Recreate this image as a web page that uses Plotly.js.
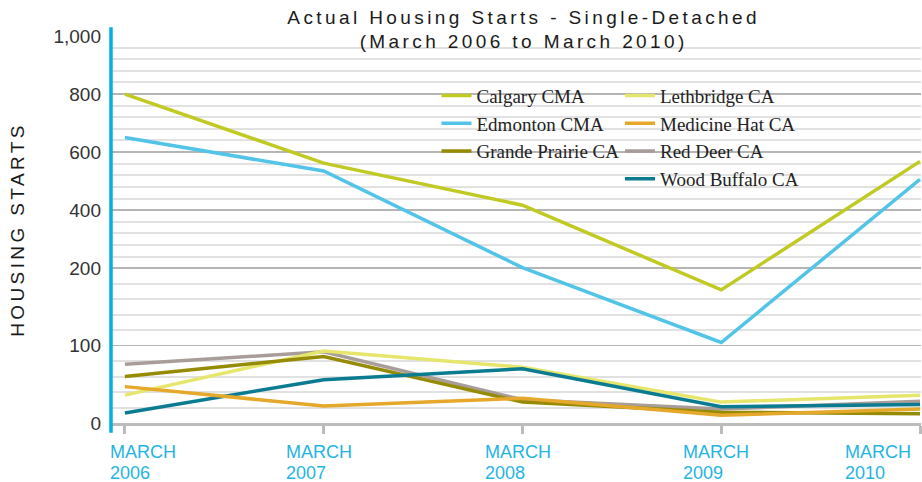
<!DOCTYPE html>
<html>
<head>
<meta charset="utf-8">
<script src="https://cdn.plot.ly/plotly-3.0.1.min.js"></script>
<style>
  html, body { margin: 0; padding: 0; background: #fff; }
  #chart { width: 922px; height: 482px; }
  .gtitle { letter-spacing: 3.4px; }
  .ytitle { letter-spacing: 3.4px; }
</style>
</head>
<body>
<div id="chart"></div>
<script>
// ---- data ----
const categories = ["March 2006", "March 2007", "March 2008", "March 2009", "March 2010"];
const tickMonths = ["MARCH", "MARCH", "MARCH", "MARCH", "MARCH"];
const tickYears  = ["2006", "2007", "2008", "2009", "2010"];

const calgary       = [800, 562, 417, 172, 568];
const edmonton      = [650, 535, 202, 104, 506];
const grandePrairie = [60, 86, 27, 14, 12];
const lethbridge    = [36, 93, 72, 27, 36];
const medicineHat   = [47, 22, 32, 10, 18];
const redDeer       = [76, 92, 30, 18, 28];
const woodBuffalo   = [13, 56, 70, 21, 24];

const yTickValues = [0, 100, 200, 400, 600, 800, 1000];
const yTickText   = ["0", "100", "200", "400", "600", "800", "1,000"];

// ---- broken (two-slope) value axis: 0-200 at full scale, 200-1000 compressed ----
const BREAK = 200, UPPER_SCALE = 0.375;
function scaleY(v) { return v <= BREAK ? v : BREAK + (v - BREAK) * UPPER_SCALE; }

const minorVals = [];
for (let v = 20; v < 200; v += 20) if (v % 100) minorVals.push(scaleY(v));
for (let v = 240; v < 1000; v += 40) if (v % 200) minorVals.push(scaleY(v));

const series = [
  {name: "Calgary CMA",        y: calgary,       color: "#c1c923", legend: "legend"},
  {name: "Edmonton CMA",       y: edmonton,      color: "#52c4e8", legend: "legend"},
  {name: "Grande Prairie CA",  y: grandePrairie, color: "#968b05", legend: "legend"},
  {name: "Lethbridge CA",      y: lethbridge,    color: "#e6e56c", legend: "legend2"},
  {name: "Medicine Hat CA",    y: medicineHat,   color: "#e5a82a", legend: "legend2"},
  {name: "Red Deer CA",        y: redDeer,       color: "#a89d98", legend: "legend2"},
  {name: "Wood Buffalo CA",    y: woodBuffalo,   color: "#0b7b91", legend: "legend2"}
];
const drawOrder = [0, 1, 5, 3, 2, 6, 4];

const traces = drawOrder.map(i => {
  const s = series[i];
  return {
    type: "scatter", mode: "lines", name: s.name, x: categories,
    y: s.y.map(scaleY),
    line: {color: s.color, width: 3.5}, legend: s.legend, cliponaxis: false,
    legendrank: i + 1
  };
});

const sans = "Liberation Sans, Arial, sans-serif";
const serif = "Liberation Serif, Times New Roman, serif";
const cyan = "#1fb5e3";

// plot box in pixels (used only to place decorations)
const PL = 111, PW = 810, PB = 423.3, PH = 387.6;
const px = x => (x - PL) / PW;
const py = y => (PB - y) / PH;

const labelShift = [-16, -39, -38, -39, -76];
const annotations = [];
categories.forEach((c, i) => {
  [[tickMonths[i], -18], [tickYears[i], -38.5]].forEach(([t, ys]) => {
    annotations.push({
      xref: "x", yref: "paper", x: c, y: 0, yanchor: "top", xanchor: "left",
      xshift: labelShift[i], yshift: ys, borderpad: 0,
      text: t, showarrow: false, align: "left",
      font: {family: sans, size: 18, color: cyan}
    });
  });
});

const layout = {
  width: 922, height: 482,
  margin: {l: PL, r: 922 - PL - PW, t: PB - PH, b: 482 - PB},
  paper_bgcolor: "#fff", plot_bgcolor: "#fff",
  showlegend: true,
  title: {
    text: "Actual Housing Starts - Single-Detached<br>(March 2006 to March 2010)",
    font: {family: sans, size: 19, color: "#1a1a1a"},
    xref: "container", x: 0.568, xanchor: "center",
    yref: "container", y: 0.951, yanchor: "top"
  },
  xaxis: {
    type: "category", range: [-0.07, 4.005], fixedrange: true,
    showgrid: false, zeroline: false,
    showline: true, linecolor: "#bcbcbc", linewidth: 3,
    ticks: "outside", ticklen: 8, tickwidth: 3, tickcolor: "#bcbcbc",
    showticklabels: false
  },
  yaxis: {
    range: [0, 500], fixedrange: true, zeroline: false, showline: false,
    tickmode: "array", tickvals: yTickValues.map(scaleY), ticktext: yTickText,
    ticks: "", ticklabelstandoff: 9,
    tickfont: {family: sans, size: 19, color: "#333"},
    showgrid: true, gridcolor: "#b5b5b5", gridwidth: 1.5,
    minor: {tickmode: "array", tickvals: minorVals, showgrid: true, gridcolor: "#e1e1e1", gridwidth: 2, ticks: ""},
    title: {text: "HOUSING STARTS", font: {family: sans, size: 19, color: "#1a1a1a"}, standoff: 23}
  },
  legend: {
    xref: "paper", yref: "paper", x: px(436.5), y: py(76.5), xanchor: "left", yanchor: "top",
    bgcolor: "rgba(0,0,0,0)", font: {family: serif, size: 19, color: "#222"}, traceorder: "normal"
  },
  legend2: {
    xref: "paper", yref: "paper", x: px(620), y: py(76.5), xanchor: "left", yanchor: "top",
    bgcolor: "rgba(0,0,0,0)", font: {family: serif, size: 19, color: "#222"}, traceorder: "normal"
  },
  shapes: [
    {type: "rect", xref: "paper", yref: "paper", layer: "between",
     x0: px(227), x1: px(819), y0: py(64), y1: py(29),
     fillcolor: "rgba(255,255,255,0.72)", line: {width: 0}},
    {type: "rect", xref: "paper", yref: "paper", layer: "between",
     x0: px(435), x1: px(812), y0: py(195), y1: py(75),
     fillcolor: "rgba(255,255,255,0.72)", line: {width: 0}},
    {type: "line", xref: "paper", yref: "paper", layer: "above",
     x0: 0, x1: 0, y0: py(433), y1: py(27), line: {color: "#03aee0", width: 3.5}}
  ],
  annotations: annotations
};

Plotly.newPlot("chart", traces, layout, {displayModeBar: false, staticPlot: true});
</script>
</body>
</html>
